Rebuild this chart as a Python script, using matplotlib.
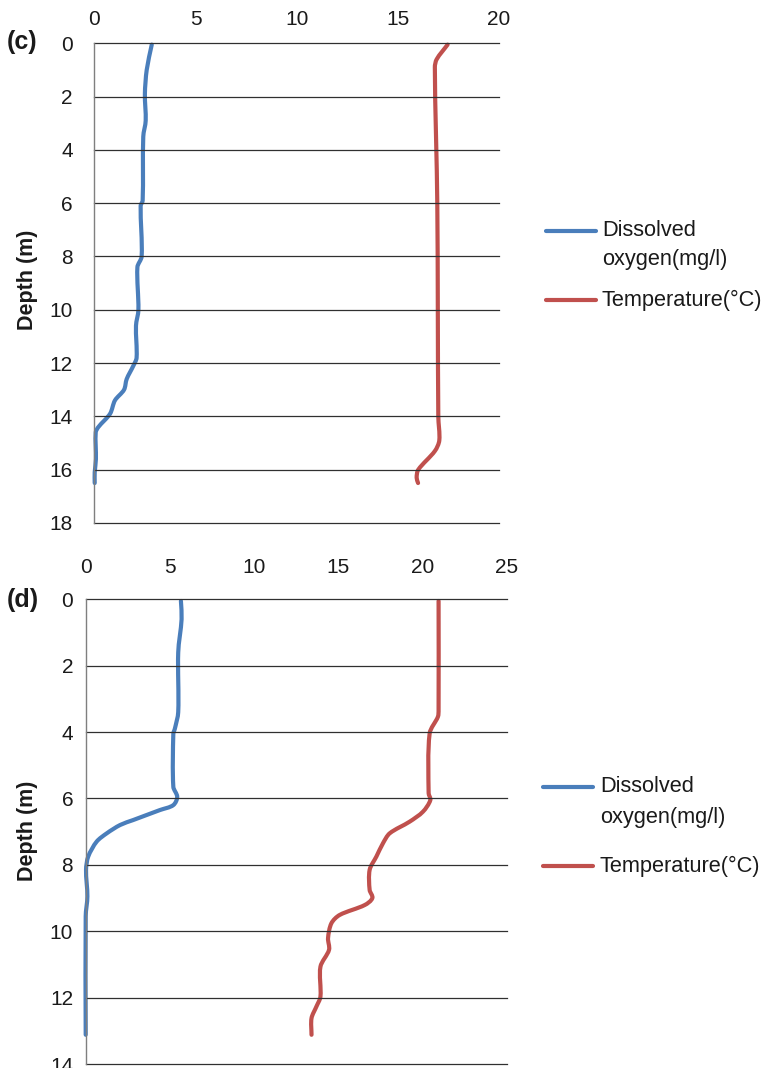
import matplotlib
matplotlib.use("Agg")
import numpy as np
import matplotlib.pyplot as plt
from matplotlib.lines import Line2D
from matplotlib.path import Path
from matplotlib.patches import PathPatch

plt.rcParams['font.family'] = ['Liberation Sans', 'DejaVu Sans']

# ---- Profile (c) ----
c_do_depth = [0.05, 1.0, 1.9, 2.9, 3.5, 5.9, 6.1, 8.0, 8.4, 10.0, 10.6, 11.8,
              12.1, 12.6, 13.0, 13.4, 13.9, 14.4, 14.6, 15.6, 16.1, 16.5]
c_do = [2.84, 2.59, 2.50, 2.54, 2.42, 2.39, 2.29, 2.34, 2.13, 2.18, 2.06, 2.09,
        1.93, 1.60, 1.47, 1.02, 0.78, 0.20, 0.07, 0.08, 0.02, 0.02]
c_t_depth = [0.05, 0.6, 0.9, 6.0, 14.0, 14.9, 15.3, 16.0, 16.3, 16.5]
c_t = [17.46, 16.92, 16.83, 16.95, 17.0, 17.05, 16.83, 16.01, 15.93, 16.0]

# ---- Profile (d) ----
d_do_depth = [0.05, 0.6, 1.6, 3.4, 3.9, 4.05, 5.65, 5.95, 6.2, 6.35, 6.65, 6.8,
              7.05, 7.3, 7.75, 8.15, 8.95, 9.55, 13.12]
d_do = [5.65, 5.69, 5.49, 5.49, 5.29, 5.20, 5.20, 5.43, 5.20, 4.40, 2.82, 2.04,
        1.25, 0.65, 0.15, 0.02, 0.10, 0.0, 0.0]
d_t_depth = [0.05, 3.33, 3.54, 4.04, 5.84, 6.05, 6.4, 6.7, 7.05, 7.35, 7.75, 8.15,
             8.76, 9.0, 9.21, 9.51, 9.76, 10.21, 10.56, 11.07, 11.97, 12.27, 12.62, 13.12]
d_t = [20.94, 20.94, 20.90, 20.41, 20.35, 20.45, 20.01, 19.22, 18.04, 17.64, 17.25,
       16.85, 16.85, 17.01, 16.56, 15.07, 14.58, 14.38, 14.44, 13.93, 13.93, 13.69,
       13.40, 13.40]

BLUE = '#4A7EBB'
RED = '#C0504D'
LW = 3.0
TXT = '#1a1a1a'

W, H = 767, 1068
fig = plt.figure(figsize=(W / 100, H / 100), dpi=100)


def fx(px):
    return px / W


def fy(py):
    return 1 - py / H


def smooth_line(ax, xs, ys, color, tension=0.3):
    """Draw a smoothed (cubic Bezier) line through the measured points.

    Tangents are taken from neighbouring points in screen space and each
    control arm is scaled by its own segment length, so long straight runs
    meet short wiggles without overshoot.
    """
    pts = ax.transData.transform(np.column_stack([xs, ys]).astype(float))
    n = len(pts)
    tangents = []
    for i in range(n):
        a = pts[max(i - 1, 0)]
        b = pts[min(i + 1, n - 1)]
        d = b - a
        norm = np.hypot(*d)
        tangents.append(d / norm if norm > 0 else np.zeros(2))
    verts = [pts[0]]
    codes = [Path.MOVETO]
    for i in range(n - 1):
        p1, p2 = pts[i], pts[i + 1]
        seg = np.hypot(*(p2 - p1))
        c1 = p1 + tangents[i] * seg * tension
        c2 = p2 - tangents[i + 1] * seg * tension
        verts += [c1, c2, p2]
        codes += [Path.CURVE4] * 3
    verts = ax.transData.inverted().transform(np.array(verts))
    patch = PathPatch(Path(verts, codes), facecolor='none', edgecolor=color,
                      lw=LW, capstyle='round', joinstyle='round', clip_on=False)
    ax.add_patch(patch)


def make_panel(left, right, top, bottom, xmax, xstep, ymax, xpad, ypad):
    ax = fig.add_axes([fx(left), fy(bottom), fx(right) - fx(left), fy(top) - fy(bottom)])
    ax.set_xlim(0, xmax)
    ax.set_ylim(ymax, 0)
    ax.set_xticks(range(0, xmax + 1, xstep))
    ax.set_yticks(range(0, ymax + 1, 2))
    ax.xaxis.tick_top()
    ax.tick_params(axis='both', length=0, labelsize=15, colors=TXT)
    ax.tick_params(axis='x', pad=xpad)
    ax.tick_params(axis='y', pad=ypad)
    for s in ['top', 'right', 'bottom']:
        ax.spines[s].set_visible(False)
    ax.spines['left'].set_color('#7f7f7f')
    ax.spines['left'].set_linewidth(1.0)
    ax.yaxis.grid(True, color='#303030', linewidth=0.9)
    ax.xaxis.grid(False)
    for gl in ax.get_ygridlines():
        gl.set_clip_on(False)
    return ax


def legend(y_blue, y_oxy, y_red, x0, x1, xt):
    fig.add_artist(Line2D([fx(x0), fx(x1)], [fy(y_blue)] * 2, color=BLUE, lw=LW,
                          solid_capstyle='round'))
    fig.add_artist(Line2D([fx(x0), fx(x1)], [fy(y_red)] * 2, color=RED, lw=LW,
                          solid_capstyle='round'))
    kw = dict(fontsize=15.7, va='center', ha='left', color=TXT)
    fig.text(fx(xt), fy(y_blue), 'Dissolved', **kw)
    fig.text(fx(xt), fy(y_oxy), 'oxygen(mg/l)', **kw)
    fig.text(fx(xt), fy(y_red), 'Temperature(\u00b0C)', **kw)


# Panel (c)
axc = make_panel(94.3, 499, 43.3, 523, 20, 5, 18, xpad=10, ypad=15.5)
smooth_line(axc, c_do, c_do_depth, BLUE)
smooth_line(axc, c_t, c_t_depth, RED)
fig.text(fx(28), fy(280), 'Depth (m)', rotation=90, fontsize=15.5, fontweight='bold',
         ha='center', va='center', color=TXT)
fig.text(fx(7), fy(42), '(c)', fontsize=18, fontweight='bold', ha='left', va='center',
         color=TXT)
legend(231, 260, 300, 546, 596, 602)

# Panel (d)
axd = make_panel(85.7, 507, 599.3, 1064, 25, 5, 14, xpad=16, ypad=9)
smooth_line(axd, d_do, d_do_depth, BLUE)
smooth_line(axd, d_t, d_t_depth, RED)
fig.text(fx(28), fy(831), 'Depth (m)', rotation=90, fontsize=15.5, fontweight='bold',
         ha='center', va='center', color=TXT)
fig.text(fx(7), fy(600), '(d)', fontsize=18, fontweight='bold', ha='left', va='center',
         color=TXT)
legend(787, 818, 866, 543, 593, 600)

fig.savefig('out.png', dpi=100)
